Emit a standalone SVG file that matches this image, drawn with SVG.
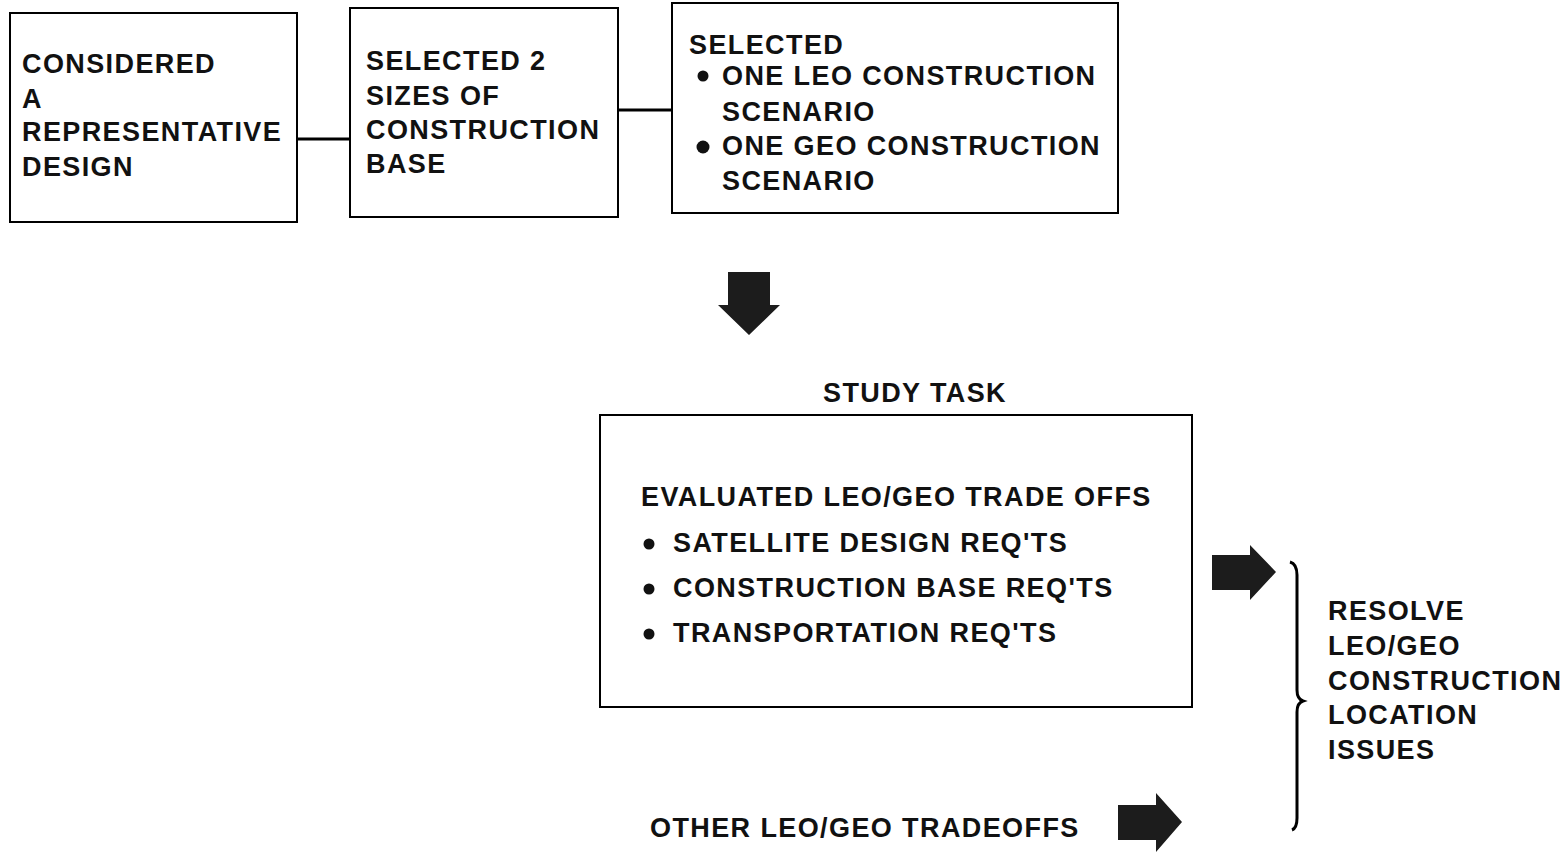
<svg xmlns="http://www.w3.org/2000/svg" width="1564" height="852" viewBox="0 0 1564 852">
<style>
.box{fill:#fff;stroke:#000;stroke-width:2}
.t{font-family:"Liberation Sans",Arial,sans-serif;font-weight:bold;font-size:27px;fill:#111;letter-spacing:1.4px}
.line{stroke:#000;stroke-width:3;fill:none}
.arrow{fill:#1c1c1c}
.dot{fill:#111}
</style>
<rect width="1564" height="852" fill="#fff"/>
<g id="connectors">
<line class="line" x1="297" y1="139" x2="350" y2="139"/>
<line class="line" x1="618" y1="110" x2="672" y2="110"/>
<path id="arrow-down" class="arrow" d="M728,272 H770 V305 H780 L749,335 L718,305 H728 Z"/>
<path id="arrow-right-1" class="arrow" d="M1212,555 H1250 V545 L1276,572 L1250,600 V590 H1212 Z"/>
<path id="arrow-right-2" class="arrow" d="M1118,805 H1156 V793 L1182,822 L1156,852 V840 H1118 Z"/>
<path id="brace" d="M1290,562 Q1297,564 1297,575 V690 Q1297,699 1303,701 Q1297,703 1297,712 V818 Q1297,828 1292,830" fill="none" stroke="#000" stroke-width="3"/>
</g>
<g id="node-considered">
<rect class="box" x="10" y="13" width="287" height="209"/>
<text class="t" x="22" y="73">CONSIDERED</text>
<text class="t" x="22" y="108">A</text>
<text class="t" x="22" y="141">REPRESENTATIVE</text>
<text class="t" x="22" y="176">DESIGN</text>
</g>
<g id="node-selected-sizes">
<rect class="box" x="350" y="8" width="268" height="209"/>
<text class="t" x="366" y="70">SELECTED 2</text>
<text class="t" x="366" y="105">SIZES OF</text>
<text class="t" x="366" y="139">CONSTRUCTION</text>
<text class="t" x="366" y="173">BASE</text>
</g>
<g id="node-selected-scenarios">
<rect class="box" x="672" y="3" width="446" height="210"/>
<text class="t" x="689" y="54">SELECTED</text>
<circle class="dot" cx="703" cy="76" r="5.5"/>
<text class="t" x="722" y="85">ONE LEO CONSTRUCTION</text>
<text class="t" x="722" y="121">SCENARIO</text>
<circle class="dot" cx="703" cy="147" r="6.5"/>
<text class="t" x="722" y="155">ONE GEO CONSTRUCTION</text>
<text class="t" x="722" y="190">SCENARIO</text>
</g>
<g id="node-study-task">
<text class="t" x="823" y="402">STUDY TASK</text>
<rect class="box" x="600" y="415" width="592" height="292"/>
<text class="t" x="641" y="506">EVALUATED LEO/GEO TRADE OFFS</text>
<circle class="dot" cx="649" cy="544" r="5.5"/>
<text class="t" x="673" y="552">SATELLITE DESIGN REQ'TS</text>
<circle class="dot" cx="649" cy="589" r="5.5"/>
<text class="t" x="673" y="597">CONSTRUCTION BASE REQ'TS</text>
<circle class="dot" cx="649" cy="634" r="5.5"/>
<text class="t" x="673" y="642">TRANSPORTATION REQ'TS</text>
</g>
<g id="node-other">
<text class="t" x="650" y="837">OTHER LEO/GEO TRADEOFFS</text>
</g>
<g id="node-resolve">
<text class="t" x="1328" y="620">RESOLVE</text>
<text class="t" x="1328" y="655">LEO/GEO</text>
<text class="t" x="1328" y="690">CONSTRUCTION</text>
<text class="t" x="1328" y="724">LOCATION</text>
<text class="t" x="1328" y="759">ISSUES</text>
</g>
</svg>
